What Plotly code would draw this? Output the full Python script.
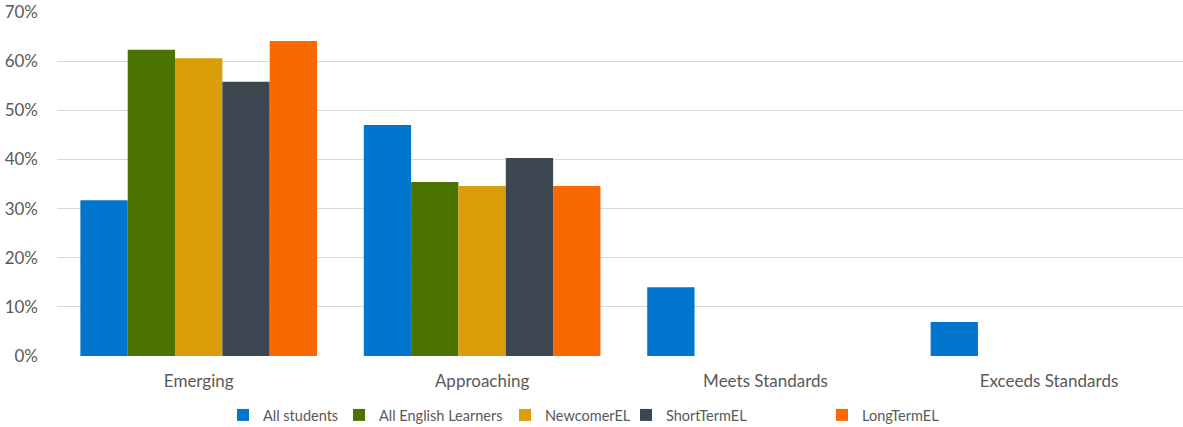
import plotly.graph_objects as go

categories = ["Emerging", "Approaching", "Meets Standards", "Exceeds Standards"]
series_names = ["All students", "All English Learners", "NewcomerEL", "ShortTermEL", "LongTermEL"]
all_students = [0.317, 0.470, 0.140, 0.069]
all_el = [0.623, 0.354, 0.0, 0.0]
newcomer_el = [0.606, 0.346, 0.0, 0.0]
shortterm_el = [0.558, 0.403, 0.0, 0.0]
longterm_el = [0.641, 0.346, 0.0, 0.0]
colors = ["#0076CE", "#4A7300", "#DA9E0A", "#3C4752", "#FA6800"]
legend_text_px = [263, 379, 545, 666, 862]

values = [all_students, all_el, newcomer_el, shortterm_el, longterm_el]

font_family = "Lato, Open Sans, sans-serif"
L, W, H = 57, 1126, 427

fig = go.Figure()
legends = {}
for i, (name, vals, col) in enumerate(zip(series_names, values, colors)):
    key = "legend" if i == 0 else f"legend{i + 1}"
    fig.add_trace(go.Bar(name=name, x=categories, y=vals, legend=key,
                         marker=dict(color=col, line=dict(width=0))))
    legends[key] = dict(orientation="h", x=(legend_text_px[i] - 40 - L) / W, xanchor="left",
                        yref="container", y=(H - 415) / H, yanchor="middle",
                        bgcolor="rgba(0,0,0,0)",
                        font=dict(size=14.5, color="#595959"), itemwidth=30)

fig.update_layout(
    width=1183, height=H,
    margin=dict(l=L, r=0, t=12, b=71),
    paper_bgcolor="white", plot_bgcolor="white",
    barmode="group", bargap=0.165, bargroupgap=0,
    font=dict(family=font_family, size=17, color="#595959"),
    showlegend=True,
    **legends,
)
fig.update_yaxes(range=[0, 0.7], dtick=0.1, tickformat=".0%", showgrid=True,
                 gridcolor="#D9D9D9", gridwidth=1, zeroline=False, showline=False,
                 ticks="", ticklabelstandoff=18, fixedrange=True, automargin=False)
fig.update_xaxes(range=[-0.5, 3.473], showgrid=False, zeroline=False, showline=False,
                 ticks="", ticklabelstandoff=13, fixedrange=True, automargin=False)

fig.write_html("out.html")
